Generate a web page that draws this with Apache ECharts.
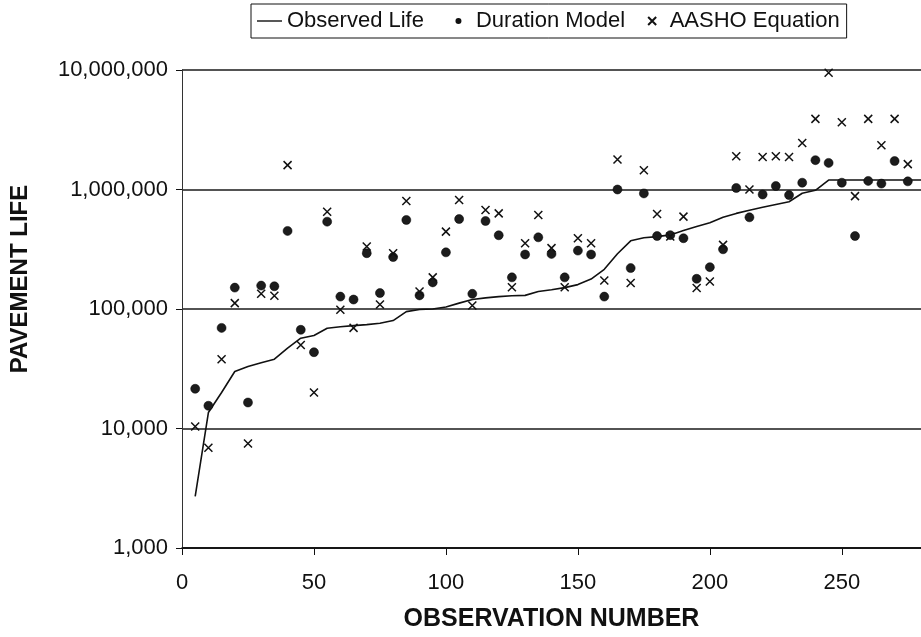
<!DOCTYPE html>
<html>
<head>
<meta charset="utf-8">
<script src="https://cdn.jsdelivr.net/npm/echarts@6/dist/echarts.min.js"></script>
<style>
  html, body { margin: 0; padding: 0; background: #fff; }
  #chart { width: 921px; height: 637px; }
</style>
</head>
<body>
<div id="chart"></div>
<script>
// observation numbers for the scatter points
const observationNumbers = [5, 10, 15, 20, 25, 30, 35, 40, 45, 50, 55, 60, 65, 70, 75, 80, 85, 90, 95, 100,
  105, 110, 115, 120, 125, 130, 135, 140, 145, 150, 155, 160, 165, 170, 175, 180, 185, 190, 195, 200,
  205, 210, 215, 220, 225, 230, 235, 240, 245, 250, 255, 260, 265, 270, 275];

// the observed life line runs to the right edge
const lineObservations = [5, 10, 15, 20, 25, 30, 35, 40, 45, 50, 55, 60, 65, 70, 75, 80, 85, 90, 95, 100,
  105, 110, 115, 120, 125, 130, 135, 140, 145, 150, 155, 160, 165, 170, 175, 180, 185, 190, 195, 200,
  205, 210, 215, 220, 225, 230, 235, 240, 245, 250, 255, 260, 265, 270, 275, 280];

const observedLife = [2700, 13600, 20000, 30000, 33000, 35500, 38000, 47000, 57000, 60000,
  69000, 71000, 72600, 74000, 76000, 80000, 95000, 99000, 100000, 104000,
  112000, 120000, 124000, 127000, 129000, 130000, 140000, 145000, 151000, 160000,
  178000, 215000, 290000, 372000, 395000, 403000, 417000, 453000, 490000, 527000,
  585000, 631000, 670000, 710000, 750000, 790000, 930000, 985000, 1200000, 1200000,
  1200000, 1200000, 1200000, 1200000, 1200000, 1200000];

const durationModel = [21500, 15500, 69500, 151000, 16500, 157000, 155000, 450000, 67000, 43500,
  538000, 127000, 120000, 293000, 136000, 272000, 556000, 130000, 167000, 298000,
  566000, 134000, 545000, 414000, 184000, 286000, 398000, 289000, 184000, 308000,
  286000, 127000, 1000000, 220000, 927000, 408000, 415000, 391000, 179000, 224000,
  316000, 1030000, 585000, 908000, 1070000, 898000, 1140000, 1760000, 1670000, 1140000,
  408000, 1180000, 1120000, 1730000, 1170000];

const aashoEquation = [10400, 6900, 38000, 112000, 7500, 134000, 129000, 1600000, 50000, 20000,
  652000, 98600, 69500, 333000, 109000, 293000, 800000, 140000, 184000, 444000,
  817000, 107000, 673000, 631000, 152000, 355000, 611000, 323000, 152000, 391000,
  355000, 173000, 1780000, 165000, 1450000, 623000, 405000, 593000, 150000, 170000,
  344000, 1900000, 1000000, 1870000, 1900000, 1870000, 2450000, 3900000, 9500000, 3660000,
  880000, 3900000, 2350000, 3900000, 1630000];

const xTicks = [0, 50, 100, 150, 200, 250];

const font = 'Liberation Sans, Arial, sans-serif';
const crossPath = 'path://M0,0 L10,10 M10,0 L0,10';
// plain dash for the legend, padded to the icon box
const dashIcon = 'path://M0,0 M0,3.3 L25,3.3 L25,4.7 L0,4.7 Z M25,8';
// small dot and cross for the legend
const dotIcon = 'path://M0,0 M25,8 M12.5,4 m-3,0 a3,3 0 1,0 6,0 a3,3 0 1,0 -6,0 Z';

function pairs(xs, ys) {
  return xs.map((x, i) => [x, ys[i]]);
}

const chart = echarts.init(document.getElementById('chart'), null, {renderer: 'canvas'});

chart.setOption({
  backgroundColor: '#fff',
  animation: false,
  textStyle: {fontFamily: font, color: '#111'},
  legend: {
    left: 251,
    top: 4,
    padding: [6, 7, 6, 6],
    borderColor: '#111',
    borderWidth: 1,
    itemWidth: 25,
    itemHeight: 8,
    itemGap: 22,
    textStyle: {fontFamily: font, fontSize: 22, color: '#111'},
    data: [
      {name: 'Observed Life', icon: dashIcon, itemStyle: {color: '#111'}},
      {name: 'Duration Model', icon: dotIcon, itemStyle: {color: '#111', borderWidth: 0}},
      {name: 'AASHO Equation'}
    ]
  },
  grid: {left: 182, right: 0, top: 70, bottom: 88},
  xAxis: {
    type: 'value',
    min: 0,
    max: 280,
    interval: 50,
    name: 'OBSERVATION NUMBER',
    nameLocation: 'middle',
    nameGap: 59,
    nameTextStyle: {fontFamily: font, fontSize: 25, fontWeight: 'bold', color: '#111'},
    axisLine: {lineStyle: {color: '#111', width: 1.5}},
    axisTick: {length: 7, lineStyle: {color: '#111'}},
    axisLabel: {
      fontFamily: font, fontSize: 22, color: '#111', margin: 24,
      showMaxLabel: false,
      formatter: v => xTicks.includes(v) ? String(v) : ''
    },
    splitLine: {show: false}
  },
  yAxis: {
    type: 'log',
    logBase: 10,
    min: 1000,
    max: 10000000,
    name: 'PAVEMENT LIFE',
    nameLocation: 'middle',
    nameGap: 150,
    nameTextStyle: {fontFamily: font, fontSize: 24, fontWeight: 'bold', color: '#111', padding: [0, 0, 0, 60]},
    axisLine: {show: true, lineStyle: {color: '#333', width: 1}},
    axisTick: {show: true, length: 6, lineStyle: {color: '#111'}},
    axisLabel: {
      fontFamily: font, fontSize: 22, color: '#111', margin: 14,
      formatter: v => Math.round(v).toLocaleString('en-US')
    },
    splitLine: {show: true, lineStyle: {color: '#1a1a1a', width: 1.5}}
  },
  series: [
    {
      name: 'Observed Life',
      type: 'line',
      data: pairs(lineObservations, observedLife),
      symbol: 'none',
      showSymbol: false,
      lineStyle: {color: '#111', width: 1.6},
      itemStyle: {color: '#111'},
      z: 3
    },
    {
      name: 'Duration Model',
      type: 'scatter',
      data: pairs(observationNumbers, durationModel),
      symbol: 'circle',
      symbolSize: 9,
      itemStyle: {color: '#1c1c1c', borderColor: '#000', borderWidth: 0.5, opacity: 1},
      z: 4
    },
    {
      name: 'AASHO Equation',
      type: 'scatter',
      data: pairs(observationNumbers, aashoEquation),
      symbol: crossPath,
      symbolSize: 8,
      symbolKeepAspect: true,
      itemStyle: {color: 'rgba(0,0,0,0)', borderColor: '#111', borderWidth: 1.5, opacity: 1},
      z: 5
    }
  ]
});
</script>
</body>
</html>
